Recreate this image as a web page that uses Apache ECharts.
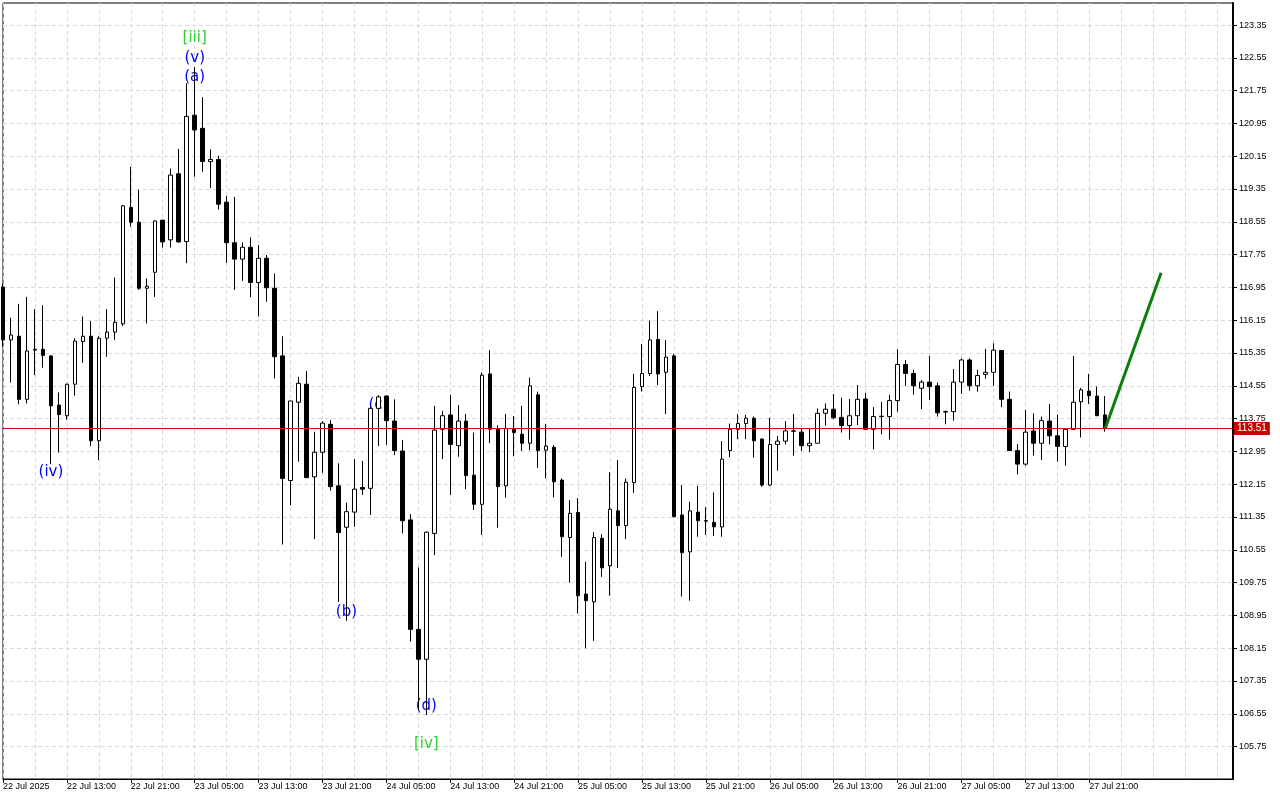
<!DOCTYPE html>
<html>
<head>
<meta charset="utf-8">
<style>
html,body{margin:0;padding:0;background:#fff;}
#chart{width:1280px;height:800px;}
</style>
<script src="https://cdn.jsdelivr.net/npm/echarts@6/dist/echarts.min.js"></script>
</head>
<body>
<div id="chart"></div>
<script>
// Hourly bars starting 22 Jul 2025 05:00
const opens = [116.96,115.67,115.76,114.22,115.42,115.44,115.28,114.08,113.82,114.59,
115.63,115.76,113.21,115.71,115.86,116.06,118.90,118.54,116.93,117.32,
118.59,118.11,119.72,118.07,121.15,120.83,120.02,120.07,119.03,118.04,
117.64,117.93,117.07,117.66,116.93,115.28,112.24,114.15,114.59,112.33,
112.93,113.61,112.11,111.10,111.47,112.07,112.05,114.00,114.30,113.69,
112.96,111.28,108.61,107.88,110.95,113.49,113.84,113.09,113.69,112.37,
111.66,114.84,113.49,112.11,113.50,113.37,113.15,114.33,112.98,113.05,
112.25,110.85,111.46,109.47,109.28,110.83,110.16,111.50,111.14,112.19,
114.53,114.85,115.68,114.88,115.28,111.40,110.50,111.47,111.26,111.22,
111.11,112.97,113.49,113.63,113.76,113.25,112.13,113.12,113.20,113.45,
113.42,113.09,113.15,113.88,113.98,113.78,113.58,113.82,114.23,113.49,
113.80,113.80,114.19,115.07,114.85,114.49,114.64,114.55,113.92,113.92,
114.64,115.18,114.55,114.83,114.88,115.41,114.22,112.97,112.64,113.45,
113.15,113.69,113.33,113.07,113.49,114.16,114.42,114.30,113.84];
const highs = [117.05,116.21,116.55,116.72,116.42,116.52,115.30,114.39,114.60,115.71,
116.24,116.13,115.76,116.42,117.19,118.96,119.89,119.33,117.17,118.59,
118.60,119.85,120.33,121.93,122.32,121.59,120.32,120.16,119.18,119.16,
118.05,118.17,117.98,117.74,117.29,115.76,114.18,114.77,114.91,113.43,
113.69,113.72,112.66,111.70,112.76,112.72,114.04,114.32,114.32,114.22,
113.23,111.42,110.12,111.00,114.06,113.94,114.33,114.08,113.86,113.41,
114.88,115.42,113.59,113.86,113.81,114.06,114.75,114.41,113.62,113.10,
112.29,111.76,111.81,110.26,110.98,110.93,112.44,112.74,112.29,114.84,
115.57,116.14,116.37,115.67,115.33,112.13,111.72,112.11,111.59,111.95,
113.20,113.63,113.86,113.84,113.80,113.27,113.77,113.33,113.69,113.86,
113.50,113.50,114.00,114.12,114.35,114.26,114.23,114.57,114.38,114.03,
114.16,114.33,115.44,115.18,114.94,114.69,115.28,114.63,113.95,114.96,
115.22,115.22,114.94,115.45,115.59,115.42,114.41,113.13,113.96,113.88,
113.80,114.11,113.85,113.50,115.28,114.50,114.84,114.53,114.30];
const lows = [115.50,114.63,114.10,114.12,114.81,114.99,112.64,112.92,113.72,114.31,
115.11,113.08,112.74,115.26,115.67,116.01,118.43,116.89,116.07,116.72,
117.92,117.92,118.04,117.54,119.65,119.77,119.37,118.85,117.55,116.89,
117.11,116.71,116.24,116.60,114.73,110.68,111.64,112.70,112.31,110.81,
112.43,111.99,109.28,108.82,111.11,111.89,111.40,113.08,113.11,112.86,
110.95,108.31,106.66,106.52,110.42,112.76,111.89,112.82,112.03,111.52,
110.91,113.15,111.09,111.82,112.83,112.96,112.98,112.55,112.29,111.83,
110.38,109.75,109.00,108.15,108.33,109.89,109.43,110.11,110.81,111.94,
114.41,114.79,114.57,113.86,111.34,109.41,109.31,110.87,110.91,110.89,
110.87,112.81,113.25,113.25,112.80,112.09,112.11,112.48,113.12,112.85,
112.96,112.94,113.15,113.58,113.74,113.41,113.24,113.59,113.49,113.00,
113.37,113.24,113.92,114.55,114.33,113.98,114.20,113.80,113.61,113.70,
114.35,114.43,114.41,114.72,114.55,114.03,112.96,112.39,112.60,112.85,
112.74,113.12,112.70,112.60,113.47,113.29,114.11,113.82,113.43];
const closes = [115.67,115.79,114.22,115.40,115.44,115.29,114.06,113.85,114.59,115.64,
115.76,113.21,115.71,115.86,116.10,118.94,118.54,116.93,116.98,118.57,
118.06,119.69,118.06,121.12,120.79,120.02,120.07,118.98,118.04,117.64,
117.93,117.07,117.66,116.94,115.26,112.29,114.18,114.61,112.31,112.93,
113.64,112.09,110.97,111.48,112.03,112.03,114.00,114.28,113.70,112.97,
111.26,108.61,107.88,110.98,113.47,113.82,113.12,113.69,112.36,111.66,
114.81,113.49,112.09,113.51,113.41,113.15,114.55,112.97,113.08,112.21,
110.87,111.44,109.43,109.31,110.85,110.11,111.54,111.14,112.20,114.51,
114.85,115.67,114.84,115.25,111.36,110.48,111.50,111.26,111.25,111.11,
112.76,113.49,113.63,113.76,113.21,112.13,113.12,113.20,113.45,113.44,
113.09,113.15,113.88,113.98,113.77,113.58,113.82,114.22,113.49,113.80,
113.81,114.19,115.07,114.85,114.55,114.64,114.53,113.89,113.91,114.64,
115.18,114.55,114.80,114.88,115.42,114.22,112.97,112.64,113.42,113.15,
113.70,113.33,113.07,113.49,114.15,114.45,114.31,113.82,113.51];

const yTicks = [105.75,106.55,107.35,108.15,108.95,109.75,110.55,111.35,112.15,112.95,
113.75,114.55,115.35,116.15,116.95,117.75,118.55,119.35,120.15,120.95,121.75,122.55,123.35];
const xTickLabels = ['22 Jul 2025','22 Jul 13:00','22 Jul 21:00','23 Jul 05:00','23 Jul 13:00','23 Jul 21:00',
'24 Jul 05:00','24 Jul 13:00','24 Jul 21:00','25 Jul 05:00','25 Jul 13:00','25 Jul 21:00',
'26 Jul 05:00','26 Jul 13:00','26 Jul 21:00','27 Jul 05:00','27 Jul 13:00','27 Jul 21:00'];

const lastPrice = 113.51;
const projectionTimes = ['27 Jul 23:00','28 Jul 06:00'];
const projectionValues = [113.51, 117.31];

const waveText  = ['[iii]','(v)','(a)','(iv)','(b)','(c)','(d)','[iv]'];
const waveTimes = ['23 Jul 05:00','23 Jul 05:00','23 Jul 05:00','22 Jul 11:00','24 Jul 00:00','24 Jul 04:00','24 Jul 10:00','24 Jul 10:00'];
const waveValues = [123.03,122.55,122.09,112.45,109.04,114.08,106.74,105.81];

// hourly category slots (bars plus empty space to the right)
const MON = ['Jan','Feb','Mar','Apr','May','Jun','Jul','Aug','Sep','Oct','Nov','Dec'];
const SLOTS = 155;
const categories = [];
const t0 = Date.UTC(2025, 6, 22, 5);
for (let i = 0; i < SLOTS; i++) {
  const d = new Date(t0 + i * 3600000);
  const hh = String(d.getUTCHours()).padStart(2,'0');
  categories.push(String(d.getUTCDate()).padStart(2,'0') + ' ' + MON[d.getUTCMonth()] + ' ' + hh + ':00');
}
const candleData = opens.map((o, i) => [o, closes[i], lows[i], highs[i]]);

const isTick = (i) => i % 8 === 0 && (i / 8) < xTickLabels.length;

const chart = echarts.init(document.getElementById('chart'), null, {renderer:'canvas'});
const axisFont = {fontFamily:'Liberation Sans', fontSize:9, color:'#000'};
const gridLine = {show:true, lineStyle:{color:'#d9d9d9', type:[4,3], width:1}};

chart.setOption({
  animation:false,
  backgroundColor:'#ffffff',
  grid:{left:2, right:47, top:3, bottom:21, show:true, borderColor:'#000', borderWidth:1, backgroundColor:'rgba(0,0,0,0)'},
  xAxis:{
    type:'category', data:categories, boundaryGap:false,
    axisLine:{show:true, lineStyle:{color:'#000', width:1}},
    axisTick:{show:true, interval:(i)=>isTick(i), length:4, lineStyle:{color:'#000'}},
    axisLabel:Object.assign({interval:(i)=>isTick(i), align:'left', margin:3,
      formatter:(v, i)=> xTickLabels[i/8] || ''}, axisFont),
    splitLine:Object.assign({interval:(i)=> i % 4 === 0}, gridLine)
  },
  yAxis:{
    type:'value', position:'right', min:104.96, max:123.887, scale:true,
    axisLine:{show:true, lineStyle:{color:'#000', width:2}},
    axisTick:{show:true, customValues:yTicks, length:4, lineStyle:{color:'#000'}},
    axisLabel:Object.assign({customValues:yTicks, margin:6, formatter:(v)=>v.toFixed(2)}, axisFont),
    splitLine:gridLine
  },
  series:[
    {
      type:'scatter', z:1, symbol:'circle', symbolSize:1, silent:true,
      itemStyle:{color:'#ffffff', opacity:1},
      data: waveText.map((t, i) => ({name:t, value:[waveTimes[i], waveValues[i]],
        label:{color: t.charAt(0) === '[' ? '#32CD32' : '#0000FF'}})),
      label:{show:true, position:'inside', formatter:'{b}', fontFamily:'DejaVu Sans', fontSize:15,
        textBorderWidth:0, textBorderColor:'transparent', textShadowBlur:0, opacity:1}
    },
    {
      type:'candlestick', z:2, clip:true, barWidth:4,
      data:candleData,
      itemStyle:{color:'#ffffff', color0:'#000000', borderColor:'#000000', borderColor0:'#000000', borderWidth:1}
    },
    {
      type:'line', z:3, clip:false, symbol:'none',
      data: projectionTimes.map((t, i) => [t, projectionValues[i]]),
      lineStyle:{color:'#0A800A', width:3},
      markLine:{
        silent:true, symbol:['none','none'],
        lineStyle:{color:'#E00000', width:1, type:'solid'},
        label:{show:true, position:'end', distance:1, formatter:()=>lastPrice.toFixed(2),
          backgroundColor:'#C80000', color:'#fff', fontFamily:'Liberation Sans', fontSize:10, padding:[2,3,1,3]},
        data:[{yAxis:lastPrice}]
      }
    }
  ]
});
</script>
</body>
</html>
